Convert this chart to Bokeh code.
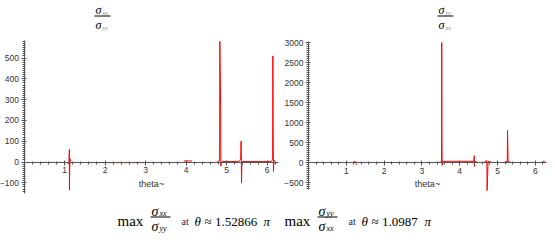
import math
from bokeh.plotting import figure
from bokeh.layouts import row
from bokeh.models import LinearAxis, FixedTicker, Range1d
from bokeh.embed import file_html
from bokeh.resources import INLINE
from bokeh.core.properties import value

nan = float("nan")

# ---- data: sigma_xx / sigma_yy versus theta ----
theta_xx = [0.45, 0.8, 1.0, 1.08, 1.11, 1.12, 1.122, 1.13, 1.14, 1.16, nan,
            1.6, 2.2, 3.0, nan,
            3.95, 4.15, nan,
            4.78, 4.82, 4.83, 4.835, 4.855, 4.86, 4.87, 4.9, 5.1, 5.3, 5.35,
            5.36, 5.365, 5.37, 5.38, 5.4, 5.6, 5.9, 6.1, 6.14, 6.145, 6.15,
            6.16, 6.17, 6.2]
ratio_xx = [-2, -2, -2, -4, -10, 60, -135, -20, 15, 5, nan,
            -3, -3, -3, nan,
            5, 5, nan,
            2, 5, 20, 580, 270, -20, -5, 3, 2, 3, 10,
            100, 60, -100, -10, 3, 2, 2, 3, 10, 510, 170,
            -45, 10, 5]

# ---- data: sigma_yy / sigma_xx versus theta ----
theta_yy = [1.2, 1.23, 1.25, 1.27, nan,
            3.45, 3.52, 3.525, 3.53, 3.535, 3.55, 3.8, 4.2, 4.37, 4.385, 4.39,
            4.4, 4.45, nan,
            4.65, 4.7, 4.72, 4.725, 4.735, 4.75, 4.82, nan,
            5.2, 5.26, 5.265, 5.28, 5.32, nan,
            6.2, 6.25]
ratio_yy = [10, 30, -20, -60, nan,
            5, 10, 3000, 650, -70, 30, 30, 30, 30, 170, -100,
            20, 20, nan,
            20, 40, 50, -700, -450, 20, 20, nan,
            20, 30, 800, 30, 20, nan,
            30, 30]

x_ticks = [1, 2, 3, 4, 5, 6]
x_minor = [round(0.2 * i, 1) for i in range(1, 32)]
left_ticks = [-100, 0, 100, 200, 300, 400, 500]
left_minor = list(range(-140, 590, 10))
right_ticks = [-500, 0, 500, 1000, 1500, 2000, 2500, 3000]
right_minor = list(range(-650, 3030, 50))

TWO_PI = 2 * math.pi
H = 243
TOP = 0
RED = "#ff0000"
AX = "#555555"
LBL = "#333333"


def make_fig(px0, width, ax_px, xs_px, zero_py, ys_px, ybounds, yt, ym):
    x0 = -(ax_px - px0) / xs_px
    x1 = x0 + width / xs_px
    y0 = (zero_py - (TOP + H)) / ys_px
    y1 = (zero_py - TOP) / ys_px
    p = figure(width=width, height=H, output_backend="svg", toolbar_location=None,
               x_range=Range1d(x0, x1), y_range=Range1d(y0, y1),
               x_axis_location=None, y_axis_location=None, min_border=0,
               outline_line_color=None, background_fill_color="white",
               border_fill_color="white")
    p.xgrid.visible = False
    p.ygrid.visible = False
    xa = LinearAxis(fixed_location=0, bounds=(0, TWO_PI),
                    ticker=FixedTicker(ticks=x_ticks, minor_ticks=x_minor),
                    axis_label="theta~")
    ya = LinearAxis(fixed_location=0, bounds=ybounds,
                    ticker=FixedTicker(ticks=yt, minor_ticks=ym))
    for a in (xa, ya):
        a.axis_line_color = AX
        a.major_tick_line_color = AX
        a.minor_tick_line_color = AX
        a.major_tick_in = 2
        a.major_tick_out = 3
        a.minor_tick_in = 1
        a.minor_tick_out = 2
        a.major_label_text_font = "Liberation Sans"
        a.major_label_text_font_size = "8.5px"
        a.major_label_text_color = LBL
        a.major_label_standoff = 2
    xa.axis_label_text_font = "Liberation Sans"
    xa.axis_label_text_font_size = "9px"
    xa.axis_label_text_font_style = "normal"
    xa.axis_label_text_color = LBL
    xa.axis_label_standoff = 2
    p.add_layout(xa, "below")
    p.add_layout(ya, "left")

    def to_data(px, py):
        return x0 + (px - px0) / xs_px, (zero_py - py) / ys_px
    return p, to_data


p1, d1 = make_fig(0, 283, 23.5, 40.5, 161.5, 0.208, (-150, 585), left_ticks, left_minor)
p2, d2 = make_fig(283, 272, 308, 37.8, 162, 0.04, (-680, 3025), right_ticks, right_minor)

p1.line(theta_xx, ratio_xx, line_color=RED, line_width=1)
p2.line(theta_yy, ratio_yy, line_color=RED, line_width=1)

SERIF = value("Liberation Serif")


def put(p, d, px, py, txt, size, style="normal", color="black", font=SERIF):
    x, y = d(px, py)
    p.text(x=[x], y=[y], text=[txt], text_font=font, text_font_size=size,
           text_font_style=style, text_color=color, text_baseline="alphabetic",
           text_align="left")


def bar(p, d, pxa, pxb, py, w=1):
    xa, y = d(pxa, py)
    xb, _ = d(pxb, py)
    p.segment(x0=[xa], y0=[y], x1=[xb], y1=[y], line_color="black", line_width=w)


def frac(p, d, px, num, den, y_num, y_bar, y_den, big, small, blen, subcol):
    put(p, d, px + 1, y_num, "\u03c3", big, "italic")
    put(p, d, px + 8, y_num + 2.5, num, small, "italic", subcol)
    bar(p, d, px, px + blen, y_bar)
    put(p, d, px + 1, y_den, "\u03c3", big, "italic")
    put(p, d, px + 8, y_den + 2.5, den, small, "italic", subcol)


# titles
frac(p1, d1, 94, "xx", "yy", 9.5, 15.5, 24.5, "12px", "6px", 16, "#888888")
frac(p2, d2, 437, "yy", "xx", 9.5, 15.5, 24.5, "12px", "6px", 16, "#888888")


def statement(p, d, x, num, den, val):
    put(p, d, x, 220, "max", "15px")
    put(p, d, x + 34, 211, "\u03c3", "14px", "italic")
    put(p, d, x + 42, 213, num, "8px", "italic")
    bar(p, d, x + 33, x + 53, 216.5)
    put(p, d, x + 34, 226, "\u03c3", "14px", "italic")
    put(p, d, x + 42, 228, den, "8px", "italic")
    put(p, d, x + 64, 221, "at", "10px", "normal", "#1a1a50")
    put(p, d, x + 77, 221, "\u03b8", "13px", "italic")
    put(p, d, x + 87, 221, "\u2248 " + val, "13px")
    return d


statement(p1, d1, 117, "xx", "yy", "1.52866")
put(p1, d1, 263, 221, "\u03c0", "13px", "italic")
statement(p2, d2, 284, "yy", "xx", "1.0987")
put(p2, d2, 424, 221, "\u03c0", "13px", "italic")

layout = row(p1, p2)
open("out.html", "w").write(file_html(layout, INLINE))
